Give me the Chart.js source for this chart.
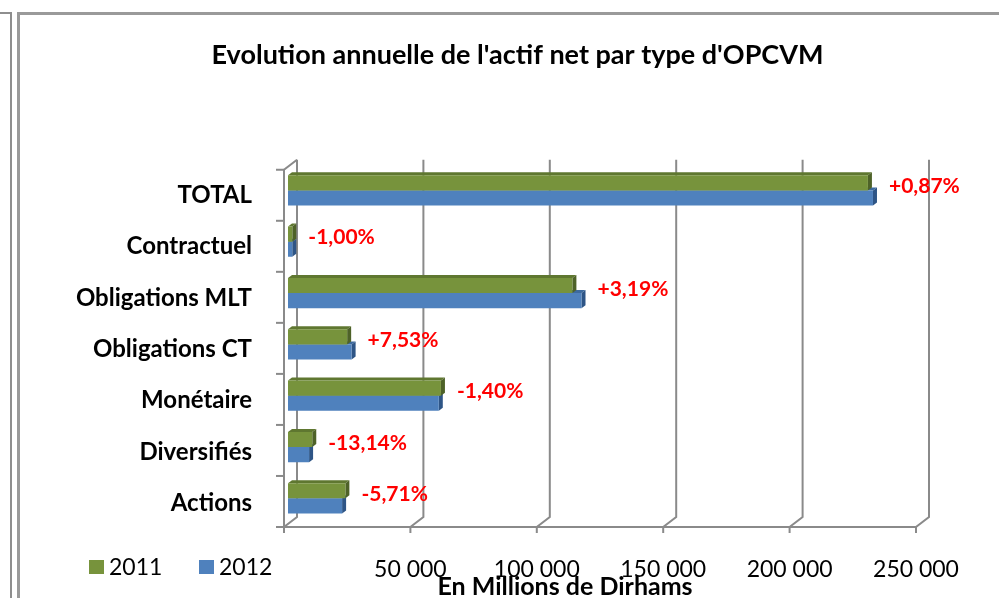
<!DOCTYPE html>
<html><head><meta charset="utf-8">
<script src="https://cdn.jsdelivr.net/npm/chart.js@4.4.1/dist/chart.umd.min.js"></script>
<style>
html,body{margin:0;padding:0;background:#fff;}
#wrap{position:relative;width:999px;height:598px;overflow:hidden;background:#fff;}
canvas{position:absolute;left:0;top:0;}
.ln{position:absolute;background:#8e8e8e;}
</style></head><body>
<div id="wrap">
<div class="ln" style="left:10px;top:12px;width:2px;height:600px"></div>
<div class="ln" style="left:0;top:12px;width:11px;height:2px"></div>
<div class="ln" style="left:17px;top:12px;width:3px;height:600px;background:#9a9a9a"></div>
<div class="ln" style="left:17px;top:12px;width:990px;height:3px;background:#9a9a9a"></div>
<canvas id="c" width="999" height="598"></canvas>
</div>
<script>
const chartTitle = "Evolution annuelle de l'actif net par type d'OPCVM";
const axisTitle = 'En Millions de Dirhams';
const categories = ['TOTAL', 'Contractuel', 'Obligations MLT', 'Obligations CT', 'Monétaire', 'Diversifiés', 'Actions'];
const seriesNames = ['2011', '2012'];
const values2011 = [229400, 1700, 112500, 23400, 60500, 9600, 22700];
const values2012 = [231400, 1683, 116100, 25160, 59650, 8340, 21400];
const changeLabels = ['+0,87%', '-1,00%', '+3,19%', '+7,53%', '-1,40%', '-13,14%', '-5,71%'];
const xTickLabels = ['', '50 000', '100 000', '150 000', '200 000', '250 000'];

const FONT = 'Lato';
const frontColors = ['#77933C', '#4F81BD'];
const topColors = ['#5F7730', '#3D6A9E'];
const sideColors = ['#4E6228', '#2E5586'];

const threeD = {
  id: 'threeD',
  beforeDatasetsDraw(chart) {
    const {ctx, chartArea: ca, scales: {x}} = chart;
    const BX = 9, BY = -7, FX = -4, FY = 3;
    const backTop = ca.top - 5, backBot = ca.bottom + BY;
    const frontTop = ca.top + 5, frontBot = ca.bottom + FY;
    ctx.save();
    ctx.strokeStyle = '#8a8a8a';
    ctx.lineWidth = 2;
    x.ticks.forEach(t => {
      const px = x.getPixelForValue(t.value);
      ctx.beginPath();
      ctx.moveTo(px + BX, backTop);
      ctx.lineTo(px + BX, backBot);
      ctx.lineTo(px + FX, frontBot);
      ctx.lineTo(px + FX, frontBot + 6);
      ctx.stroke();
    });
    const p0 = x.getPixelForValue(x.min), p1 = x.getPixelForValue(x.max);
    ctx.beginPath();
    ctx.moveTo(p0 + FX - 8, frontBot);
    ctx.lineTo(p1 + FX, frontBot);
    ctx.stroke();
    ctx.beginPath();
    ctx.moveTo(p0 + BX, backTop);
    ctx.lineTo(p0 + FX, frontTop);
    ctx.lineTo(p0 + FX, frontBot);
    ctx.stroke();
    const n = categories.length;
    for (let i = 0; i <= n; i++) {
      const yy = frontTop + i * (frontBot - frontTop) / n;
      ctx.beginPath();
      ctx.moveTo(p0 + FX - 8, yy);
      ctx.lineTo(p0 + FX, yy);
      ctx.stroke();
    }
    const DX = 4, DY = -3;
    [1, 0].forEach(di => {
      const meta = chart.getDatasetMeta(di);
      meta.data.forEach(el => {
        const p = el.getProps(['x', 'y', 'base', 'height'], true);
        const top = p.y - p.height / 2, bot = p.y + p.height / 2;
        ctx.fillStyle = topColors[di];
        ctx.beginPath();
        ctx.moveTo(p.base, top);
        ctx.lineTo(p.base + DX, top + DY);
        ctx.lineTo(p.x + DX, top + DY);
        ctx.lineTo(p.x, top);
        ctx.closePath();
        ctx.fill();
        ctx.fillStyle = sideColors[di];
        ctx.beginPath();
        ctx.moveTo(p.x, top);
        ctx.lineTo(p.x + DX, top + DY);
        ctx.lineTo(p.x + DX, bot + DY);
        ctx.lineTo(p.x, bot);
        ctx.closePath();
        ctx.fill();
      });
    });
    ctx.restore();
  },
  afterDatasetsDraw(chart) {
    const {ctx} = chart;
    const m0 = chart.getDatasetMeta(0), m1 = chart.getDatasetMeta(1);
    ctx.save();
    ctx.fillStyle = '#FF0000';
    ctx.font = 'bold 21px ' + FONT;
    ctx.textAlign = 'left';
    ctx.textBaseline = 'middle';
    changeLabels.forEach((lab, i) => {
      const e0 = m0.data[i], e1 = m1.data[i];
      const xe = Math.max(e0.x, e1.x) + 4;
      const yt = e0.y - e0.height / 2, yb = e1.y + e1.height / 2;
      ctx.fillText(lab, xe + 12, (yt + yb) / 2 - 4);
    });
    ctx.restore();
  },
  afterDraw(chart) {
    const {ctx, scales: {x}} = chart;
    ctx.save();
    ctx.fillStyle = '#000';
    ctx.textAlign = 'center';
    ctx.textBaseline = 'middle';
    ctx.font = 'bold 27px ' + FONT;
    ctx.fillText(chartTitle, chart.width / 2 + 18, 55);
    ctx.font = 'bold 25px ' + FONT;
    ctx.fillText(axisTitle, (x.left + x.right) / 2 - 39, 587);
    ctx.font = '23px ' + FONT;
    ctx.textAlign = 'left';
    const lx = [89, 199];
    chart.data.datasets.forEach((ds, i) => {
      ctx.fillStyle = ds.backgroundColor;
      ctx.fillRect(lx[i], 560, 15, 14);
      ctx.fillStyle = '#000';
      ctx.fillText(ds.label, lx[i] + 20, 568);
    });
    ctx.restore();
  }
};

new Chart(document.getElementById('c'), {
  type: 'bar',
  data: {
    labels: categories,
    datasets: [
      {label: seriesNames[0], data: values2011, backgroundColor: frontColors[0], categoryPercentage: 0.59, barPercentage: 1, borderWidth: 0},
      {label: seriesNames[1], data: values2012, backgroundColor: frontColors[1], categoryPercentage: 0.59, barPercentage: 1, borderWidth: 0}
    ]
  },
  options: {
    indexAxis: 'y',
    responsive: false,
    animation: false,
    layout: {padding: {left: 0, right: 79, top: 164.75, bottom: 0}},
    plugins: {
      legend: {display: false},
      tooltip: {enabled: false},
      title: {display: false}
    },
    scales: {
      x: {
        min: 0, max: 250000,
        ticks: {stepSize: 50000, autoSkip: false, maxRotation: 0, color: '#000',
          font: {family: FONT, size: 23}, padding: 32, labelOffset: -4,
          callback: (v, i) => xTickLabels[i]},
        grid: {display: false, drawTicks: false},
        border: {display: false},
        afterFit(s) { s.height = 74; }
      },
      y: {
        ticks: {color: '#000', font: {family: FONT, size: 24, weight: 'bold'}, padding: 36, labelOffset: 5, autoSkip: false},
        grid: {display: false, drawTicks: false},
        border: {display: false},
        afterFit(s) { s.width = 288; }
      }
    }
  },
  plugins: [threeD]
});
</script>
</body></html>
